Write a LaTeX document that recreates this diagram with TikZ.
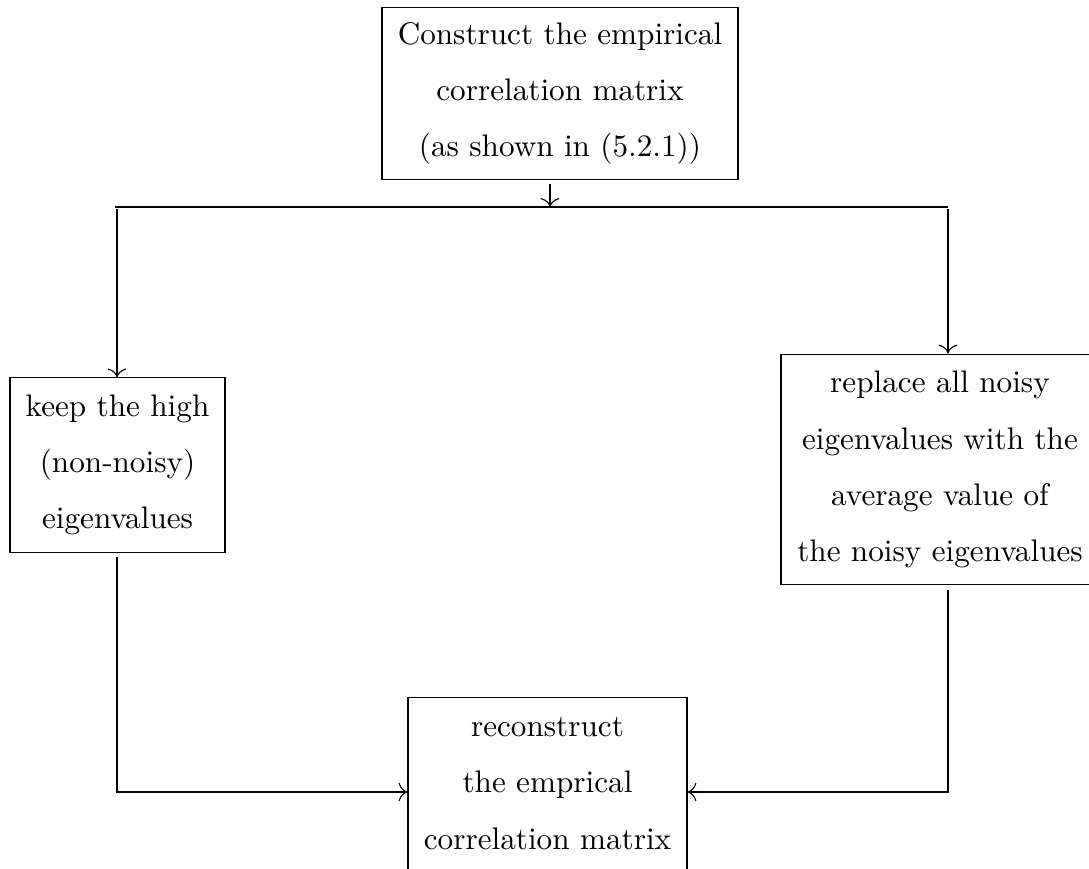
\documentclass[tikz,border=0pt]{standalone}
\usepackage{tikz}
\usetikzlibrary{positioning,arrows.meta}

\begin{document}
\begin{tikzpicture}[x=0.3205pt,y=-0.3205pt,>={To[scale=1.2]},
    blk/.style={draw,align=center,font=\fontsize{10}{18}\selectfont,inner sep=0pt},
    every path/.style={line width=0.35pt}]
            \useasboundingbox (0,0) rectangle (1089,869);
            \node[blk,minimum width=114.1pt,minimum height=55.4pt] (Cons) at (560,93.5)
                {Construct the empirical\\ correlation matrix\\ (as shown in (5.2.1))};
            \node[blk,minimum width=68.9pt,minimum height=55.8pt] (Keep) at (117.5,465)
                {keep the high\\ (non-noisy)\\ eigenvalues};
            \node[blk,minimum width=101.9pt,minimum height=74pt] (Repl) at (940,469.5)
                {replace all noisy\\ eigenvalues with the\\ average value of\\ the noisy eigenvalues};
            \node[blk,minimum width=89.4pt,minimum height=55.4pt] (Recon) at (547.5,783.5)
                {reconstruct\\ the emprical\\ correlation matrix};
            \coordinate (S) at (550,207);
            \coordinate (S_l) at (115,207);
            \coordinate (S_r) at (948,207);
            \coordinate (C_l) at (117,792);
            \coordinate (C_r) at (948,792);
            \draw[->,shorten <=1pt] (Cons.south -| S) -- (S);
            \draw (S_l) -- (S_r);
            \draw[->] (S_l -| C_l) ++(0,2) -- (Keep.north -| C_l);
            \draw[->] (S_r) ++(0,2) -- (Repl.north -| S_r);
            \draw[->,shorten <=1.5pt] (Keep.south -| C_l) -- (C_l) -- (Recon.west |- C_l);
            \draw[->,shorten <=1.5pt] (Repl.south -| C_r) -- (C_r) -- (Recon.east |- C_r);
\end{tikzpicture}
\end{document}
